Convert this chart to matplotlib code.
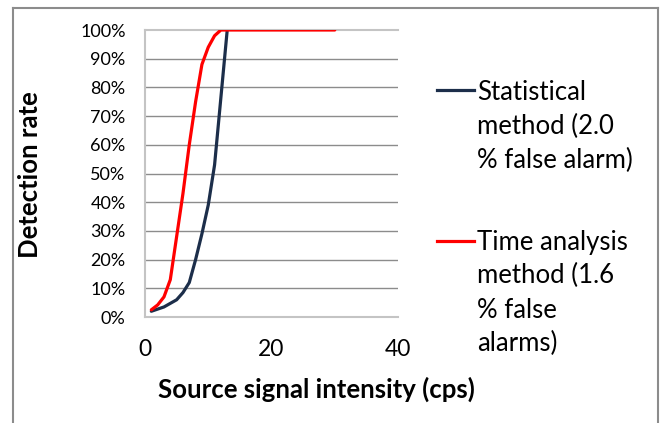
import matplotlib
matplotlib.use("Agg")
import matplotlib.pyplot as plt
from matplotlib.lines import Line2D

plt.rcParams['font.family'] = ['Lato', 'DejaVu Sans']

# Data
stat_x = [1, 3, 5, 6, 7, 8, 9, 10, 11, 13]
stat_y = [0.02, 0.035, 0.06, 0.085, 0.12, 0.20, 0.29, 0.39, 0.53, 1.00]
time_x = [1, 2, 3, 4, 5, 6, 7, 8, 9, 10, 11, 12, 30]
time_y = [0.025, 0.042, 0.07, 0.13, 0.28, 0.43, 0.60, 0.75, 0.88, 0.94, 0.98, 1.00, 1.00]
x_ticks = [0, 20, 40]
y_ticks = [0, 0.1, 0.2, 0.3, 0.4, 0.5, 0.6, 0.7, 0.8, 0.9, 1.0]
y_ticklabels = ['0%', '10%', '20%', '30%', '40%', '50%', '60%', '70%', '80%', '90%', '100%']
stat_label = "Statistical\nmethod (2.0\n% false alarm)"
time_label = "Time analysis\nmethod (1.6\n% false\nalarms)"

W, H = 660, 423
fig = plt.figure(figsize=(W / 100, H / 100), dpi=100)
ax = fig.add_axes([145 / W, 1 - 317 / H, (398 - 145) / W, (317 - 30) / H])

stat_color = '#1c2e4a'
time_color = '#ff0000'
ax.plot(stat_x, stat_y, color=stat_color, lw=2.3, solid_capstyle='round', zorder=3)
ax.plot(time_x, time_y, color=time_color, lw=2.3, solid_capstyle='round', zorder=3)

ax.set_xlim(0, 40)
ax.set_ylim(0, 1)
ax.set_xticks(x_ticks)
ax.set_yticks(y_ticks)
ax.set_yticklabels(y_ticklabels)
ax.tick_params(axis='both', length=0, colors='black')
ax.tick_params(axis='x', pad=16, labelsize=16.5)
ax.tick_params(axis='y', pad=14, labelsize=13)
for y in y_ticks[1:-1]:
    ax.axhline(y, color='#8c8c8c', lw=1.0, zorder=1)
for s in ['left', 'bottom', 'top']:
    ax.spines[s].set_color('#c4c4c4')
    ax.spines[s].set_linewidth(1.5)
ax.spines['right'].set_visible(False)

fig.text(316 / W, 1 - 389 / H, 'Source signal intensity (cps)', ha='center', va='center',
         fontsize=18.5, fontweight='bold')
fig.text(30 / W, 1 - 175 / H, 'Detection rate', ha='center', va='center',
         rotation=90, fontsize=18.5, fontweight='bold')

# Legend (manual)
fig.add_artist(Line2D([437 / W, 474 / W], [1 - 90 / H, 1 - 90 / H], color=stat_color, lw=2.3))
fig.add_artist(Line2D([437 / W, 474 / W], [1 - 241 / H, 1 - 241 / H], color=time_color, lw=2.3))
for i, line in enumerate(stat_label.split('\n')):
    fig.text(477 / W, 1 - (99.5 + 34.5 * i) / H, line, ha='left', va='baseline', fontsize=18.5)
for i, line in enumerate(time_label.split('\n')):
    fig.text(477 / W, 1 - (249.5 + 34 * i) / H, line, ha='left', va='baseline', fontsize=18.5)

# Chart area border (bottom edge out of frame)
bc = '#8c8c8c'
fig.add_artist(Line2D([13 / W, 13 / W], [0, 1 - 8 / H], color=bc, lw=1.5))
fig.add_artist(Line2D([13 / W, 658 / W], [1 - 8 / H, 1 - 8 / H], color=bc, lw=1.5))
fig.add_artist(Line2D([658 / W, 658 / W], [0, 1 - 8 / H], color=bc, lw=1.5))

fig.savefig('out.png', dpi=100)
